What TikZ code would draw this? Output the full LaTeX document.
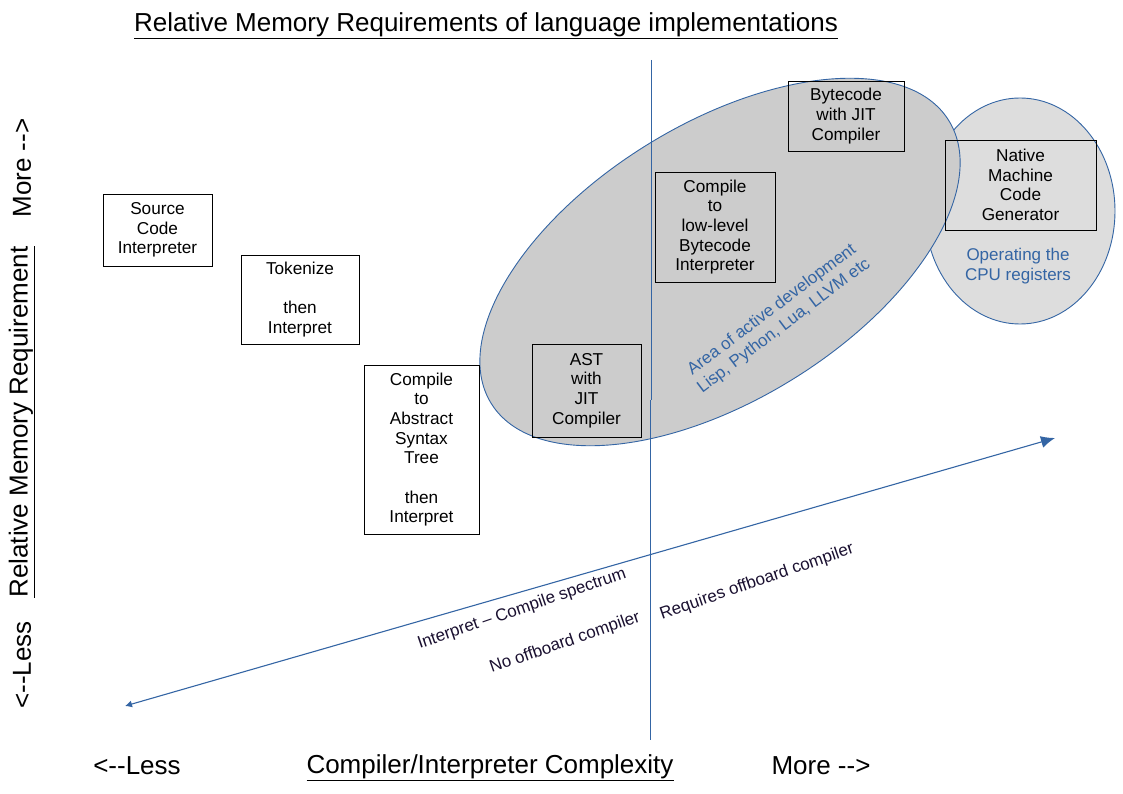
\documentclass[tikz,border=0pt]{standalone}
\usepackage{fontspec}
\setmainfont{Liberation Sans}
\usepackage {tikz}
\usetikzlibrary {arrows.meta,shapes.geometric}
\definecolor{lineblue}{HTML}{3465A4}
\definecolor{bigfill}{HTML}{CCCCCC}
\definecolor{smallfill}{HTML}{DDDDDD}
\definecolor{labelink}{HTML}{1A1030}

\begin{document}
\begin{tikzpicture}[x=1pt ,y=-1pt ,
    box/.style ={ rectangle ,draw ,line width=0.9pt ,align=center ,
    inner sep=0pt ,font=\fontsize{17.2}{19.7}\selectfont},
    blob/.style={ ellipse ,draw=lineblue ,line width=0.9pt ,inner sep=0pt},
    note/.style={ text=labelink ,rotate=19 ,font=\fontsize{17}{20}\selectfont},
    bluenote/.style={ text=lineblue ,align=center ,font=\fontsize{17}{20}\selectfont},
    axis/.style={ font=\fontsize{26}{30}\selectfont}
    ]
    \useasboundingbox (0,0) rectangle (1123,794);

    % the two areas
    \node[blob ,fill=smallfill ,minimum width=190pt ,minimum height=226pt] (cpu) at (1020,211) {};
    \node[blob ,fill=bigfill ,minimum width=538pt ,minimum height=276pt ,rotate=31.7] (active) at (720,262) {};

    % divider
    \coordinate (vtop) at (651,60);
    \coordinate (vmid) at (651,400);
    \coordinate (vmid2) at (650,400);
    \coordinate (vbot) at (650,740);
    \draw[lineblue ,line width=1pt] (vtop) -- (vmid);
    \draw[lineblue ,line width=1pt] (vmid2) -- (vbot);

    % implementations
    \node[box ,minimum width=109pt ,minimum height=72pt] (src) at (157.5,230) {Source\\Code\\Interpreter};
    \node[box ,minimum width=118pt ,minimum height=89pt] (tok) at (300,299.5) {Tokenize\\[19.7pt]then\\Interpret};
    \node[box ,minimum width=115pt ,minimum height=169pt] (ast) at (421.5,449.5) {Compile\\to\\Abstract\\Syntax\\Tree\\[19.7pt]then\\Interpret};
    \node[box ,minimum width=109pt ,minimum height=93pt] (astjit) at (586.5,390.5) {AST\\with\\JIT\\Compiler};
    \node[box ,minimum width=120pt ,minimum height=110pt] (lowbc) at (715,227) {Compile\\to\\low-level\\Bytecode\\Interpreter};
    \node[box ,minimum width=116pt ,minimum height=70pt] (bcjit) at (846,116) {Bytecode\\with JIT\\Compiler};
    \node[box ,minimum width=151pt ,minimum height=90pt] (native) at (1020.5,185) {Native\\Machine\\Code\\Generator};

    \node[bluenote ,rotate=37] (dev) at (778,318) {Area of active development\\Lisp, Python, Lua, LLVM etc};
    \node[bluenote] (regs) at (1018,266) {Operating the\\CPU registers};

    % spectrum
    \coordinate (lo) at (125,706);
    \coordinate (hi) at (1055,438);
    \draw[lineblue ,line width=1.1pt ,{Latex[length=7pt,width=7pt]}-{Latex[length=14pt,width=12pt]}] (lo) -- (hi);
    \node[note] (spec) at (522,609) {Interpret -- Compile spectrum};
    \node[note] (nooff) at (565,643) {No offboard compiler};
    \node[note] (off) at (757,582) {Requires offboard compiler};

    % axes
    \node[axis] (title) at (486,26) {\underline{Relative Memory Requirements of language implementations}};
    \node[axis] (xless) at (137,766) {<-{}-Less};
    \node[axis] (xname) at (490,768) {\underline{Compiler/Interpreter Complexity}};
    \node[axis] (xmore) at (821,766) {More -{}->};
    \node[axis ,rotate=90] (ymore) at (22,168) {More -{}->};
    \node[axis ,rotate=90] (yname) at (22,422) {\underline{Relative Memory Requirement}};
    \node[axis ,rotate=90] (yless) at (22,665) {<-{}-Less};
    \end{tikzpicture}
\end{document}
